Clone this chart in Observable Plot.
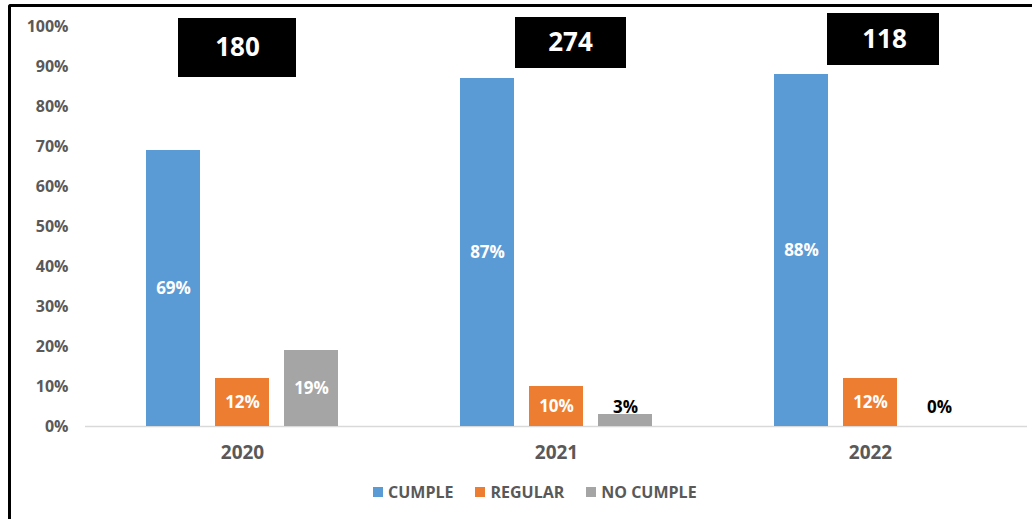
<!DOCTYPE html>
<html>
<head>
<meta charset="utf-8">
<script src="https://cdn.jsdelivr.net/npm/d3@7"></script>
<script src="https://cdn.jsdelivr.net/npm/@observablehq/plot@0.6"></script>
<style>
  body { margin: 0; background: #fff; font-family: "Open Sans", sans-serif; overflow: hidden; }
  #frame { position: absolute; left: 8px; top: 4px; width: 1100px; height: 600px;
           border-left: 3px solid #000; border-top: 3px solid #000; border-top-left-radius: 3px; }
  #chart { position: absolute; left: 0; top: 0; }
  #legend { position: absolute; left: 373px; top: 480px; height: 24px; display: flex; align-items: center;
            font-family: "Open Sans", sans-serif; font-weight: 700; font-size: 16px; color: #595959; }
  #legend .item { display: flex; align-items: center; margin-right: 22px; }
  #legend .sw { width: 10px; height: 10px; margin-right: 5px; }
</style>
</head>
<body>
<div id="frame"></div>
<div id="chart"></div>
<div id="legend"></div>
<script>
// ---- data ----
const years = ["2020", "2021", "2022"];
const series = ["CUMPLE", "REGULAR", "NO CUMPLE"];
const cumple = [69, 87, 88];
const regular = [12, 10, 12];
const noCumple = [19, 3, 0];
const totals = [180, 274, 118];
const yTicks = [0, 10, 20, 30, 40, 50, 60, 70, 80, 90, 100];
const colors = ["#5B9BD5", "#ED7D31", "#A5A5A5"];

// ---- layout (positions of the total boxes, in y units and pixel insets) ----
const boxLayout = [
  {y1: 87.25, y2: 102.0, insetLeft: 93, insetRight: 103, dx: -5},
  {y1: 89.5, y2: 102.25, insetLeft: 116, insetRight: 87, dx: 14},
  {y1: 90.25, y2: 103.25, insetLeft: 114, insetRight: 88, dx: 14}
];

const rows = [];
years.forEach((yr, i) => {
  [cumple, regular, noCumple].forEach((arr, j) => {
    rows.push({year: yr, series: series[j], value: arr[i]});
  });
});
const inside = rows.filter(d => d.value >= 5);
const outside = rows.filter(d => d.value < 5);

const boxMarks = [];
years.forEach((yr, i) => {
  const L = boxLayout[i];
  const datum = [{year: yr, total: totals[i]}];
  boxMarks.push(Plot.barY(datum, {fx: "year", y1: L.y1, y2: L.y2, insetLeft: L.insetLeft, insetRight: L.insetRight, fill: "#000"}));
  boxMarks.push(Plot.text(datum, {fx: "year", y: (L.y1 + L.y2) / 2, dx: L.dx, text: d => String(d.total),
    fill: "#fff", fontSize: 26, fontWeight: "bold", fontFamily: "Open Sans"}));
});

const chart = Plot.plot({
  width: 1032,
  height: 470,
  marginLeft: 85,
  marginRight: 5,
  marginTop: 26,
  marginBottom: 44,
  style: {fontFamily: "Open Sans", background: "transparent"},
  fx: {domain: years, padding: 0, label: null},
  x: {domain: series, paddingInner: 0.214, paddingOuter: 0.85, axis: null},
  y: {domain: [0, 100], axis: null},
  color: {domain: series, range: colors},
  marks: [
    Plot.axisY(yTicks, {tickSize: 0, tickPadding: 17, tickFormat: d => d + "%", fontSize: 16, fontWeight: "bold", fill: "#595959", label: null}),
    Plot.axisFx({anchor: "bottom", tickSize: 0, tickPadding: 19, fontSize: 19, fontWeight: "bold", fill: "#595959", label: null}),
    Plot.ruleY([0], {stroke: "#D9D9D9", strokeWidth: 1.5}),
    Plot.barY(rows, {fx: "year", x: "series", y: "value", fill: "series"}),
    Plot.text(inside, {fx: "year", x: "series", y: d => d.value / 2, text: d => d.value + "%",
      fill: "#fff", fontSize: 17, fontWeight: "bold", fontFamily: "Open Sans"}),
    Plot.text(outside, {fx: "year", x: "series", y: d => Math.max(d.value, 3), dy: -7, text: d => d.value + "%",
      fill: "#000", fontSize: 17, fontWeight: "bold", fontFamily: "Open Sans"}),
    ...boxMarks
  ]
});
document.getElementById("chart").appendChild(chart);

const legend = document.getElementById("legend");
series.forEach((s, i) => {
  const item = document.createElement("div");
  item.className = "item";
  const sw = document.createElement("div");
  sw.className = "sw";
  sw.style.background = colors[i];
  const t = document.createElement("span");
  t.textContent = s;
  item.appendChild(sw);
  item.appendChild(t);
  legend.appendChild(item);
});
</script>
</body>
</html>
